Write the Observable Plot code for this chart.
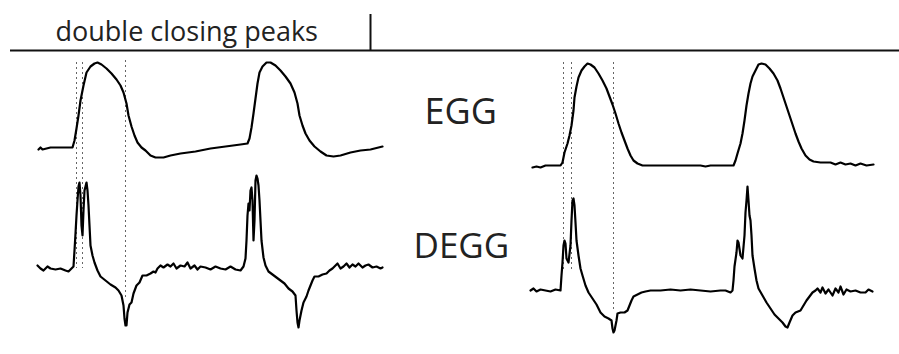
<!DOCTYPE html>
<html>
<head>
<meta charset="utf-8">
<script src="https://cdn.jsdelivr.net/npm/d3@7"></script>
<script src="https://cdn.jsdelivr.net/npm/@observablehq/plot@0.6"></script>
<style>
  html, body { margin: 0; padding: 0; background: #fff; }
  #chart svg { display: block; }
</style>
</head>
<body>
<div id="chart"></div>
<script>
// Samples (horizontal) and level (vertical, screen-down)
const leftEgg = [[38,149],[40,147],[42,149],[50,147],[72,147],[74,140],[76,128],[78,115],[80,100],[83,85],[86,72],[90,66],[94,63],[97,62],[101,64],[106,68],[111,73],[116,79],[120,85],[123,92],[126,103],[128,115],[131,126],[134,135],[137,142],[141,147],[145,150],[150,155],[155,157],[163,157],[170,155],[180,153],[195,151],[210,148],[225,146],[240,144],[247,143],[249,138],[251,127],[253,113],[255,98],[257,83],[259,72],[262,66],[266,62],[270,62],[275,65],[280,70],[285,76],[290,83],[294,92],[297,103],[299,115],[302,125],[305,133],[309,140],[314,146],[320,151],[326,155],[333,156],[340,155],[350,152],[360,150],[370,149],[378,147],[382,146]];

const leftDegg = [[37,265],[40,268],[43,270],[47,266],[50,268],[55,269],[60,268],[65,270],[68,271],[71,268],[73,266],[74,250],[75,233],[76,215],[77,200],[78,186],[79,182],[80,195],[81,225],[82,235],[83,210],[84,190],[86,182],[87,190],[88,205],[89,225],[90,245],[92,255],[94,262],[97,270],[100,276],[105,280],[110,284],[115,287],[118,290],[121,295],[123,305],[124,318],[125,325],[126,325],[127,312],[129,304],[131,302],[133,293],[136,285],[139,282],[142,275],[146,275],[150,273],[153,271],[155,272],[157,268],[160,265],[163,267],[167,264],[170,266],[173,263],[176,268],[180,265],[184,266],[187,262],[190,268],[194,265],[197,269],[200,266],[205,267],[210,269],[215,266],[220,268],[225,269],[230,266],[235,269],[240,270],[243,266],[245,258],[246,240],[247,215],[248,203],[249,210],[250,190],[251,187],[252,200],[253,240],[254,220],[255,180],[256,175],[257,178],[258,185],[259,200],[260,220],[261,240],[263,257],[265,265],[268,271],[272,274],[276,277],[280,280],[284,283],[288,288],[292,291],[295,295],[296,310],[297,322],[298,327],[299,320],[301,310],[303,302],[306,296],[308,290],[310,285],[312,280],[314,276],[318,276],[322,274],[326,273],[329,270],[332,268],[335,265],[337,263],[340,268],[343,266],[346,263],[349,267],[352,264],[355,266],[358,263],[362,267],[365,265],[368,264],[372,267],[376,266],[380,268],[382,267]];

const rightEgg = [[532,167],[536,166],[540,167],[545,165],[560,165],[562,162],[564,152],[567,143],[569,135],[571,125],[573,110],[574,97],[576,86],[578,77],[581,70],[584,66],[587,63],[590,64],[594,67],[598,73],[602,80],[606,88],[609,96],[612,104],[615,113],[618,123],[621,132],[624,140],[627,148],[630,155],[633,160],[637,163],[642,165],[650,165],[690,165],[700,165],[705,166],[710,165],[725,165],[733,165],[735,160],[737,153],[740,143],[742,133],[744,120],[746,105],[748,93],[750,83],[752,76],[755,70],[758,64],[761,63],[765,64],[769,68],[773,73],[777,80],[780,88],[783,97],[786,106],[789,115],[792,124],[795,133],[798,141],[801,148],[805,155],[809,159],[813,161],[820,162],[830,162],[835,164],[840,162],[845,164],[850,163],[855,165],[860,163],[866,165],[873,164]];

const rightDegg = [[530,290],[533,288],[536,291],[540,289],[545,290],[550,291],[555,289],[560,290],[561,275],[562,262],[563,245],[564,240],[565,243],[566,258],[568,262],[570,245],[571,220],[572,200],[573,198],[574,205],[575,222],[576,240],[578,255],[580,268],[582,275],[585,285],[588,292],[592,298],[596,304],[600,312],[604,316],[608,318],[611,320],[612,328],[613,332],[614,330],[616,320],[617,313],[620,312],[624,312],[627,310],[629,305],[631,300],[633,296],[637,294],[641,292],[645,291],[650,290],[660,290],[670,289],[680,290],[690,289],[700,290],[710,291],[720,290],[725,290],[730,292],[732,290],[733,280],[734,266],[736,252],[737,240],[738,242],[740,255],[742,258],[744,235],[745,212],[746,200],[747,186],[748,200],[749,215],[750,220],[751,235],[752,255],[754,268],[756,280],[758,288],[762,295],[766,302],[770,308],[774,314],[778,318],[782,322],[785,326],[787,327],[789,322],[792,315],[795,312],[800,310],[803,305],[806,300],[809,296],[812,292],[815,290],[817,288],[820,292],[822,287],[825,293],[828,289],[832,295],[835,288],[838,292],[840,286],[843,294],[846,289],[850,291],[855,290],[860,292],[865,292],[868,289],[872,291]];

// Dashed marker lines: sample, top level, bottom level
const markers = [[76,62,268],[82,62,268],[125,60,300],[563,62,272],[571,62,272],[613,62,312]];

// Labels
const title = "double closing peaks";
const signalLabels = [{text: "EGG", x: 424, y: 123, size: 36}, {text: "DEGG", x: 413, y: 257, size: 35}];

const toPts = arr => arr.map(([x, y]) => ({x, y}));

const plot = Plot.plot({
  width: 899,
  height: 354,
  margin: 0,
  x: {domain: [0, 899], range: [0, 899], axis: null},
  y: {domain: [0, 354], range: [0, 354], axis: null},
  style: {background: "#fff"},
  marks: [
    Plot.ruleY([50], {x1: 10, x2: 899, stroke: "#111", strokeWidth: 2}),
    Plot.ruleX([370], {y1: 14, y2: 50, stroke: "#111", strokeWidth: 2}),
    Plot.text([title], {x: 55, y: 40, text: d => d, textAnchor: "start", lineAnchor: "bottom", fontSize: 27, fontFamily: "Open Sans", fill: "#222"}),
    Plot.ruleX(markers, {x: d => d[0], y1: d => d[1], y2: d => d[2], stroke: "#666", strokeWidth: 1, strokeDasharray: "2,3"}),
    Plot.line(toPts(leftEgg), {x: "x", y: "y", stroke: "#000", strokeWidth: 2.2}),
    Plot.line(toPts(leftDegg), {x: "x", y: "y", stroke: "#000", strokeWidth: 2.2}),
    Plot.line(toPts(rightEgg), {x: "x", y: "y", stroke: "#000", strokeWidth: 2.2}),
    Plot.line(toPts(rightDegg), {x: "x", y: "y", stroke: "#000", strokeWidth: 2.2}),
    ...signalLabels.map(l => Plot.text([l], {x: "x", y: "y", text: "text", textAnchor: "start", lineAnchor: "bottom", fontSize: l.size, fontFamily: "Open Sans", fill: "#222"}))
  ]
});
document.getElementById("chart").appendChild(plot);
</script>
</body>
</html>
